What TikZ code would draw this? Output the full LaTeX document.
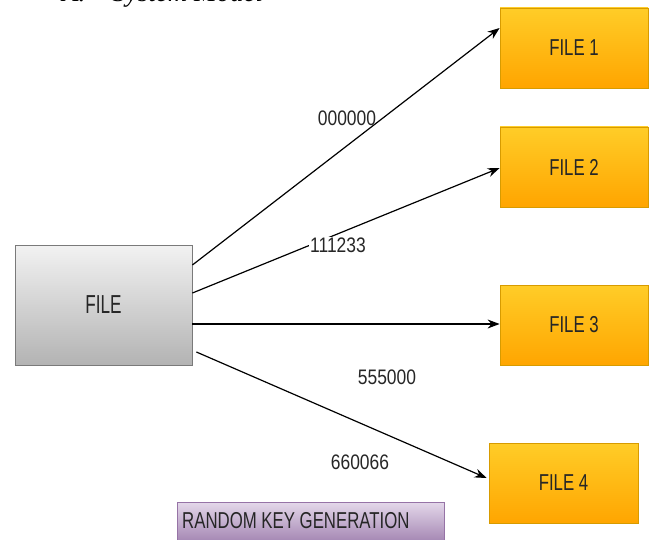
\documentclass[tikz,border=0pt]{standalone}
\usepackage{fontspec}
\setmainfont{Liberation Serif}
\setsansfont{Liberation Sans}
\usetikzlibrary{arrows.meta}
\definecolor{inktext}{HTML}{262626}
\definecolor{orgtop}{HTML}{FFCD28}
\definecolor{orgbot}{HTML}{FFA500}
\definecolor{orgline}{HTML}{D79B00}
\definecolor{grytop}{HTML}{F2F2F2}
\definecolor{grybot}{HTML}{B3B3B3}
\definecolor{gryline}{HTML}{7A7A7A}
\definecolor{purtop}{HTML}{E4D8EA}
\definecolor{purbot}{HTML}{9A79AA}
\definecolor{purline}{HTML}{9673A6}
\newcommand{\narrow}[2][0.73]{\scalebox{#1}[1]{#2}}
\tikzset{
  filebox/.style={draw=orgline, line width=0.8pt, top color=orgtop, bottom color=orgbot,
    minimum width=148pt, minimum height=80pt, inner sep=0pt,
    font=\sffamily\fontsize{23}{26}\selectfont, text=inktext},
  srcbox/.style={draw=gryline, line width=0.8pt, top color=grytop, bottom color=grybot,
    minimum width=177pt, minimum height=120pt, inner sep=0pt,
    font=\sffamily\fontsize{26}{28}\selectfont, text=inktext},
  keybox/.style={draw=purline, line width=0.8pt, top color=purtop, bottom color=purbot,
    minimum width=267pt, minimum height=46pt, inner sep=0pt},
  keylabel/.style={font=\sffamily\fontsize{21}{23}\selectfont, text=inktext, inner sep=1pt},
  arr/.style={line width=1.2pt, -{Stealth[length=12pt,width=9pt]}}
}
\begin{document}
\begin{tikzpicture}[x=1pt,y=-1pt]
\useasboundingbox (0,0) rectangle (650,540);
\clip (0,0) rectangle (650,540);

% section heading, running off the top edge
\node[anchor=base west, inner sep=0pt, font=\fontsize{27}{30}\selectfont\itshape]
  (heading) at (62,2) {A.\hspace{1em}System Model};

% source and target files
\node[srcbox] (src) at (103.5,305) {\narrow[0.66]{FILE}};
\node[filebox] (f1) at (574,48) {\narrow{FILE 1}};
\node[filebox] (f2) at (574,167) {\narrow{FILE 2}};
\node[filebox] (f3) at (574,325) {\narrow{FILE 3}};
\node[filebox, minimum width=149pt] (f4) at (563.5,483) {\narrow{FILE 4}};

% key generation banner
\node[keybox] (keys) at (310.5,525) {};
\node[anchor=west, inner sep=0pt, font=\sffamily\fontsize{23}{26}\selectfont, text=inktext]
  (keytext) at (182,521) {\narrow{RANDOM KEY GENERATION}};

% connectors
\draw[arr] (src.east |- 0,265) -- (f1.west |- 0,28);
\draw[arr] (src.east |- 0,293) -- (f2.west |- 0,168);
\draw[arr] (src.east |- 0,324) -- (f3.west |- 0,324);
\draw[arr] ([xshift=4pt]src.east |- 0,352) -- ([xshift=-2pt]f4.west |- 0,478);

% key labels
\node[keylabel] (k1) at (347,118) {\narrow[0.83]{000000}};
\node[keylabel, fill=white] (k2) at (338,245) {\narrow[0.83]{111233}};
\node[keylabel] (k3) at (387,377) {\narrow[0.83]{555000}};
\node[keylabel] (k4) at (360,462) {\narrow[0.83]{660066}};
\end{tikzpicture}
\end{document}
